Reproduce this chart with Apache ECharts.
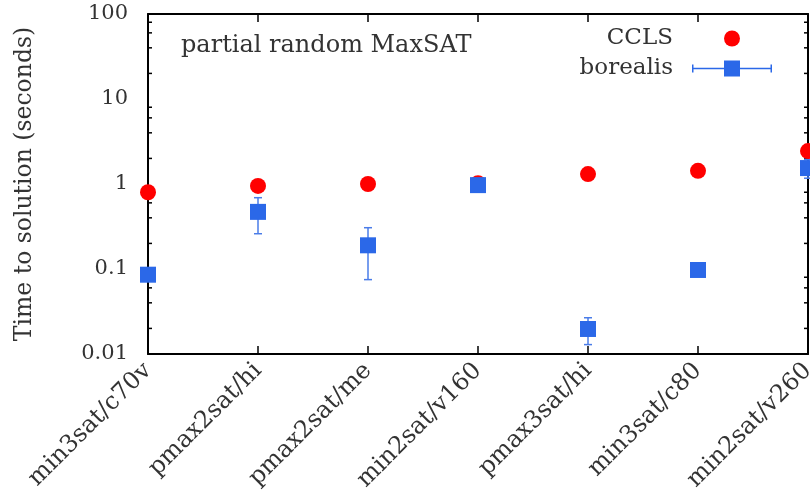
<!DOCTYPE html>
<html>
<head>
<meta charset="utf-8">
<script src="https://cdn.jsdelivr.net/npm/echarts@6/dist/echarts.min.js"></script>
<style>html,body{margin:0;padding:0;background:#fff}#c{width:810px;height:498px}</style>
</head>
<body>
<div id="c"></div>
<script>
const categories = ['min3sat/c70v','pmax2sat/hi','pmax2sat/me','min2sat/v160','pmax3sat/hi','min3sat/c80','min2sat/v260'];
const cclsValues = [0.80, 0.95, 1.0, 1.02, 1.31, 1.43, 2.44];
const borealisValues = [0.0857, 0.47, 0.19, 0.97, 0.0197, 0.0974, 1.54];
const borealisLow = [0.0857, 0.26, 0.075, 0.97, 0.0129, 0.0974, 1.17];
const borealisHigh = [0.0857, 0.69, 0.306, 0.97, 0.0267, 0.0974, 1.95];
const yTickValues = [0.01, 0.1, 1, 10, 100];
const yMinorTicks = [0.02,0.04,0.06,0.08,0.2,0.4,0.6,0.8,2,4,6,8,20,40,60,80];
const titleText = 'partial random MaxSAT';
const yAxisName = 'Time to solution (seconds)';

const FONT = 'DejaVu Serif';
const TXT = '#333333';
const RED = '#ff0000';
const BLUE = '#2b68e8';
const BLUE_ERR = '#4a7ce8';

const chart = echarts.init(document.getElementById('c'), null, {renderer:'canvas'});

const errData = categories.map((c, i) => [i, borealisLow[i], borealisHigh[i]]);
const minorData = yMinorTicks.map(v => [0, v]);

const borealisIcon = 'path://M0,4H1.5V7.25H32V0H48V7.25H78.5V4H80V12H78.5V8.75H48V16H32V8.75H1.5V12H0Z';

const option = {
  animation: false,
  backgroundColor: '#ffffff',
  title: {
    text: titleText,
    left: 181, top: 34, padding: 0,
    textStyle: {fontFamily: FONT, fontSize: 24, fontWeight: 'normal', color: TXT}
  },
  legend: {
    orient: 'vertical', right: 38, top: 27, padding: 0,
    align: 'right', itemWidth: 80, itemHeight: 16, itemGap: 7,
    textStyle: {fontFamily: FONT, fontSize: 23, color: TXT, padding: [0, 14, 0, 0]},
    data: [
      {name: 'CCLS', icon: 'circle'},
      {name: 'borealis', icon: borealisIcon}
    ]
  },
  grid: {left: 148, right: 2, top: 14, bottom: 144, containLabel: false, outerBoundsMode: 'none'},
  xAxis: [{
    type: 'category', data: categories, boundaryGap: false, position: 'bottom',
    axisLine: {lineStyle: {color: '#000', width: 2}},
    axisTick: {inside: true, length: 8, lineStyle: {color: '#000', width: 1.5}, interval: 0},
    axisLabel: {rotate: 45, interval: 0, margin: 13, fontFamily: FONT, fontSize: 24, color: TXT},
    splitLine: {show: false}
  }, {
    type: 'category', data: categories, boundaryGap: false, position: 'top',
    axisLine: {lineStyle: {color: '#000', width: 2}},
    axisTick: {inside: true, length: 8, lineStyle: {color: '#000', width: 1.5}, interval: 0},
    axisLabel: {show: false}, splitLine: {show: false}
  }],
  yAxis: [{
    type: 'log', logBase: 10, min: 0.01, max: 100, splitNumber: 4, position: 'left',
    name: yAxisName, nameLocation: 'middle', nameGap: 111, nameRotate: 90,
    nameTextStyle: {fontFamily: FONT, fontSize: 23.5, color: TXT},
    axisLine: {show: true, lineStyle: {color: '#000', width: 2}},
    axisTick: {inside: true, length: 8, lineStyle: {color: '#000', width: 1.5}},
    axisLabel: {margin: 20, fontFamily: FONT, fontSize: 21, color: TXT,
      formatter: v => { const t = yTickValues.find(x => Math.abs(x - v) / x < 1e-6); return t === undefined ? '' : String(t); }},
    splitLine: {show: false}
  }, {
    type: 'log', logBase: 10, min: 0.01, max: 100, splitNumber: 4, position: 'right',
    axisLine: {show: true, lineStyle: {color: '#000', width: 2}},
    axisTick: {inside: true, length: 8, lineStyle: {color: '#000', width: 1.5}},
    axisLabel: {show: false}, splitLine: {show: false}
  }],
  series: [
    {
      type: 'custom', name: 'minor', silent: true, clip: false, z: 1,
      xAxisIndex: 0, yAxisIndex: 0,
      data: minorData, encode: {x: 0, y: 1},
      renderItem: (params, api) => {
        const v = api.value(1);
        const pl = api.coord([0, v]);
        const pr = api.coord([categories.length - 1, v]);
        const st = {stroke: '#000', lineWidth: 1.5};
        return {type: 'group', children: [
          {type: 'line', shape: {x1: pl[0], y1: pl[1], x2: pl[0] + 4, y2: pl[1]}, style: st},
          {type: 'line', shape: {x1: pr[0], y1: pr[1], x2: pr[0] - 4, y2: pr[1]}, style: st}
        ]};
      }
    },
    {
      type: 'custom', name: 'borealis', silent: true, clip: false, z: 2,
      xAxisIndex: 0, yAxisIndex: 0,
      data: errData, encode: {x: 0, y: [1, 2]},
      itemStyle: {color: BLUE},
      renderItem: (params, api) => {
        const x = api.value(0);
        const lo = api.coord([x, api.value(1)]);
        const hi = api.coord([x, api.value(2)]);
        const st = {stroke: BLUE_ERR, lineWidth: 1.5};
        const w = 4;
        return {type: 'group', children: [
          {type: 'line', shape: {x1: lo[0], y1: lo[1], x2: hi[0], y2: hi[1]}, style: st},
          {type: 'line', shape: {x1: lo[0] - w, y1: lo[1], x2: lo[0] + w, y2: lo[1]}, style: st},
          {type: 'line', shape: {x1: hi[0] - w, y1: hi[1], x2: hi[0] + w, y2: hi[1]}, style: st}
        ]};
      }
    },
    {
      type: 'scatter', name: 'CCLS', clip: false, z: 3,
      symbol: 'circle', symbolSize: 16,
      itemStyle: {color: RED, opacity: 1},
      data: cclsValues
    },
    {
      type: 'scatter', name: 'borealis', clip: false, z: 4,
      symbol: 'rect', symbolSize: 16,
      itemStyle: {color: BLUE, opacity: 1},
      data: borealisValues
    }
  ]
};
chart.setOption(option);
</script>
</body>
</html>
